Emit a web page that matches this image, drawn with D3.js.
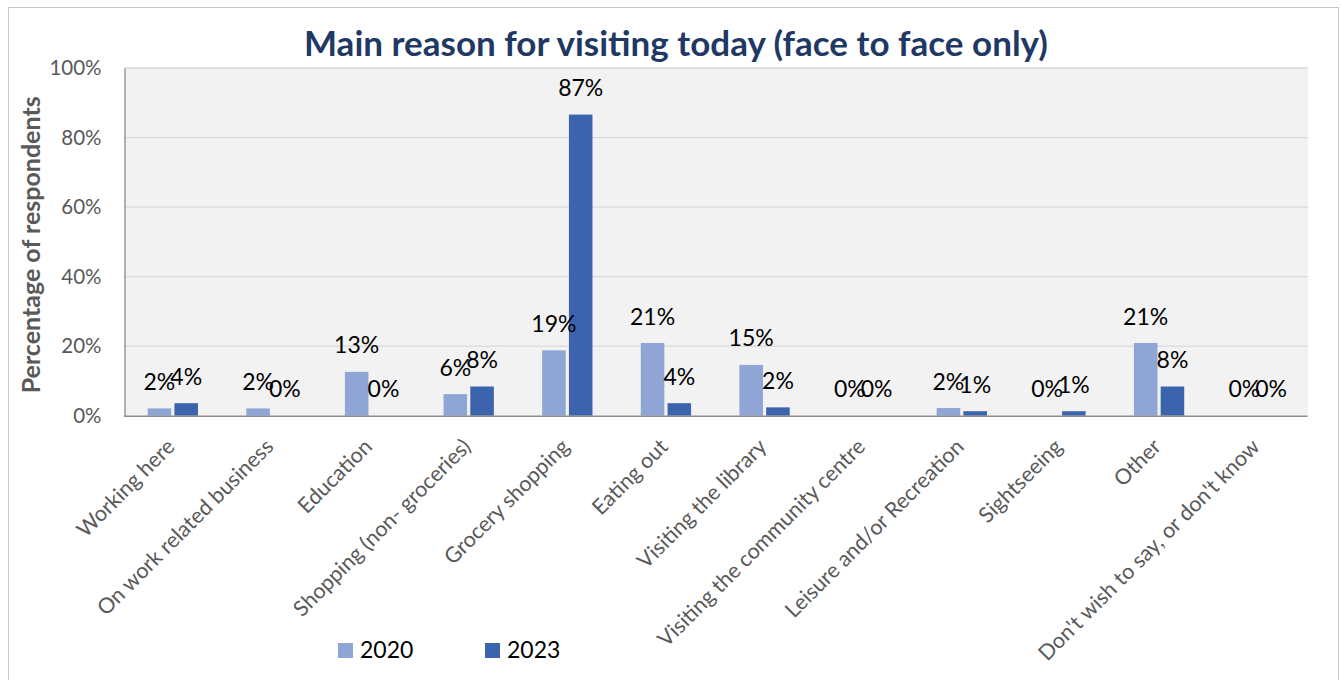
<!DOCTYPE html>
<html>
<head>
<meta charset="utf-8">
<script src="https://cdn.jsdelivr.net/npm/d3@7"></script>
<style>
  html, body { margin: 0; padding: 0; background: #ffffff; }
  svg { display: block; font-family: "Lato", "Open Sans", sans-serif; }
</style>
</head>
<body>
<svg id="chart" width="1341" height="680"></svg>
<script>
// Survey results: main reason for visiting (face to face only)
const categories = [
  "Working here",
  "On work related business",
  "Education",
  "Shopping (non- groceries)",
  "Grocery shopping",
  "Eating out",
  "Visiting the library",
  "Visiting the community centre",
  "Leisure and/or Recreation",
  "Sightseeing",
  "Other",
  "Don't wish to say, or don't know"
];
const years = ["2020", "2023"];
const values2020 = [0.021, 0.021, 0.126, 0.062, 0.188, 0.209, 0.146, 0, 0.022, 0, 0.209, 0];
const values2023 = [0.036, 0, 0, 0.084, 0.866, 0.036, 0.024, 0, 0.013, 0.013, 0.084, 0];
const yTicks = [0, 0.2, 0.4, 0.6, 0.8, 1.0];
const colors = { "2020": "#8FA5D6", "2023": "#3B64AD" };

const svg = d3.select("#chart");
const plot = { left: 124.5, right: 1308, top: 68, bottom: 415.7 };

// chart frame
svg.append("rect")
  .attr("x", 8.5).attr("y", 7.5)
  .attr("width", 1330).attr("height", 700)
  .attr("fill", "#ffffff").attr("stroke", "#C6C6C6").attr("stroke-width", 1);

// plot background
svg.append("rect")
  .attr("x", plot.left).attr("y", plot.top)
  .attr("width", plot.right - plot.left).attr("height", plot.bottom - plot.top)
  .attr("fill", "#F2F2F2");

const x0 = d3.scaleBand()
  .domain(categories)
  .range([plot.left - 1, plot.right - 1])
  .paddingInner(0.49)
  .paddingOuter(0.245);
const x1 = d3.scaleBand()
  .domain(years)
  .range([0, x0.bandwidth()])
  .paddingInner(0.12);
const y = d3.scaleLinear().domain([0, 1]).range([plot.bottom, plot.top]);

// gridlines
svg.append("g")
  .selectAll("line")
  .data(yTicks.filter(d => d > 0))
  .join("line")
  .attr("x1", plot.left).attr("x2", plot.right)
  .attr("y1", d => y(d)).attr("y2", d => y(d))
  .attr("stroke", "#D9D9D9").attr("stroke-width", 1.3);

// y axis
const yAxis = svg.append("g")
  .attr("transform", `translate(${plot.left},0)`)
  .call(d3.axisLeft(y).tickValues(yTicks).tickFormat(d3.format(".0%")).tickSize(0).tickPadding(23));
yAxis.select(".domain").attr("stroke", "#8C8C8C").attr("stroke-width", 1.3);
yAxis.selectAll("text")
  .attr("fill", "#595959")
  .style("font-size", "20.5px")
  .style("font-family", "Lato, sans-serif");

// bars
const series = [
  { year: "2020", values: values2020 },
  { year: "2023", values: values2023 }
];
const barData = [];
series.forEach(s => s.values.forEach((v, i) => barData.push({ cat: categories[i], year: s.year, value: v })));

svg.append("g")
  .selectAll("rect")
  .data(barData)
  .join("rect")
  .attr("x", d => x0(d.cat) + x1(d.year))
  .attr("width", x1.bandwidth())
  .attr("y", d => y(d.value))
  .attr("height", d => plot.bottom - y(d.value))
  .attr("fill", d => colors[d.year]);

// x axis
const xAxis = svg.append("g")
  .attr("transform", `translate(0,${plot.bottom})`)
  .call(d3.axisBottom(x0).tickSize(0).tickFormat(() => ""));
xAxis.select(".domain").attr("stroke", "#8C8C8C").attr("stroke-width", 1.5);

// value labels
svg.append("g")
  .selectAll("text")
  .data(barData)
  .join("text")
  .attr("x", d => x0(d.cat) + x1(d.year) + x1.bandwidth() / 2)
  .attr("y", d => y(d.value) - 18.5)
  .attr("text-anchor", "middle")
  .attr("fill", "#000000")
  .style("font-size", "23px")
  .text(d => d3.format(".0%")(d.value));

// category labels, rotated
svg.append("g")
  .selectAll("text")
  .data(categories)
  .join("text")
  .attr("transform", d => `translate(${x0(d) + x0.bandwidth() / 2 - 2},${plot.bottom + 27}) rotate(-45)`)
  .attr("text-anchor", "end")
  .attr("dy", "0.35em")
  .attr("fill", "#595959")
  .style("font-size", "21.5px")
  .text(d => d);

// y axis title
svg.append("text")
  .attr("transform", `translate(40,${(plot.top + plot.bottom) / 2 + 3}) rotate(-90)`)
  .attr("text-anchor", "middle")
  .attr("fill", "#595959")
  .style("font-size", "25px")
  .style("font-weight", "700")
  .text("Percentage of respondents");

// title
svg.append("text")
  .attr("x", 676).attr("y", 56)
  .attr("text-anchor", "middle")
  .attr("fill", "#1F3864")
  .style("font-size", "35px")
  .style("font-weight", "700")
  .text("Main reason for visiting today (face to face only)");

// legend
const legend = svg.append("g");
const legendItems = [{ year: "2020", x: 338 }, { year: "2023", x: 485 }];
legend.selectAll("rect")
  .data(legendItems)
  .join("rect")
  .attr("x", d => d.x).attr("y", 643)
  .attr("width", 15).attr("height", 15)
  .attr("fill", d => colors[d.year]);
legend.selectAll("text")
  .data(legendItems)
  .join("text")
  .attr("x", d => d.x + 22).attr("y", 658)
  .attr("fill", "#000000")
  .style("font-size", "23px")
  .text(d => d.year);
</script>
</body>
</html>
